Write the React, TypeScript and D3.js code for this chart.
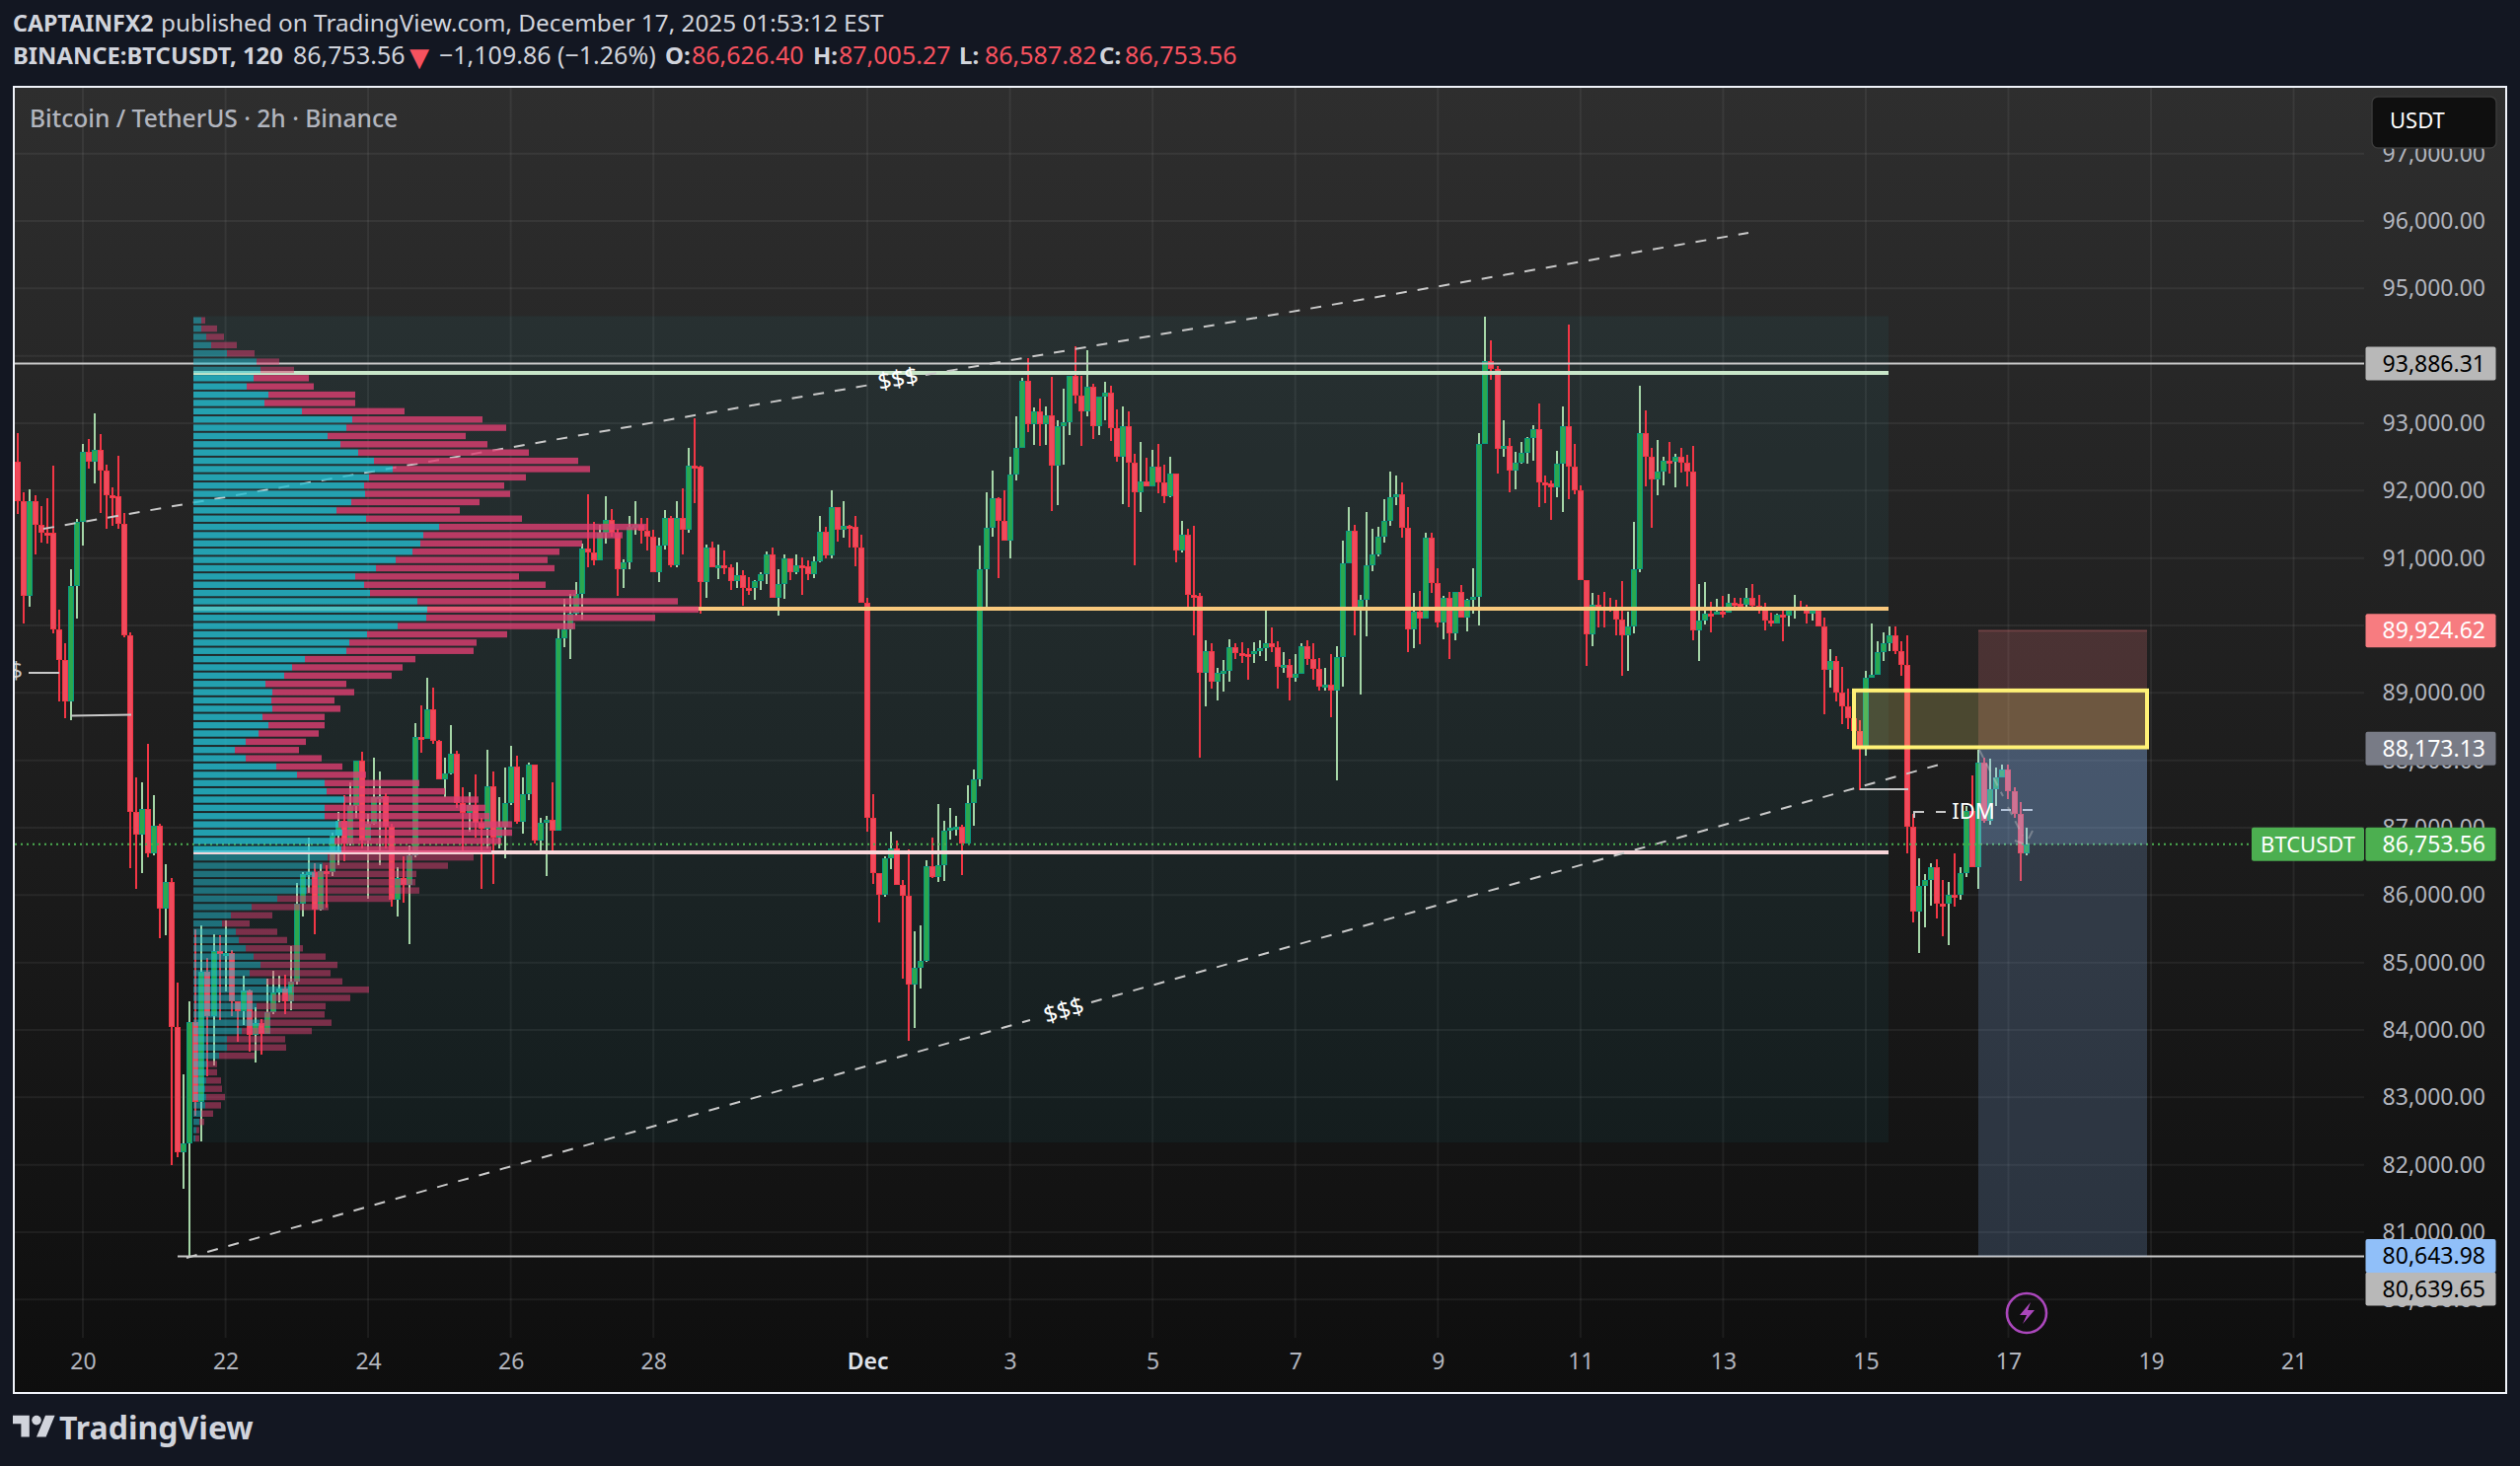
import { useEffect, useRef } from "react";
import * as d3 from "d3";

const closes = [
  91850,90440,91840,91490,91380,91370,89940,89490,88880,90580,
  91530,92570,92430,92610,92300,91930,91920,91510,89850,87230,
  86900,87280,86620,87030,85800,86190,84040,82190,82310,84110,
  82930,84870,84210,85170,85130,85140,84430,84280,84580,83920,
  84100,83940,84270,84550,84610,84430,84720,85870,86310,86340,
  85780,86360,86340,86890,87100,86760,87320,87990,86810,87060,
  87460,87470,87020,85930,86250,86150,86590,88350,88320,88760,
  88290,87720,87810,88100,87370,87220,87340,87070,86980,87620,
  86860,87010,87360,87910,87090,87500,87930,86810,87070,87120,
  86950,89810,89940,90170,90470,91140,91080,90960,91380,91560,
  91370,90830,90940,91460,91490,91400,91320,90790,91190,91600,
  90890,91590,91420,92370,92360,90640,91150,90870,90900,90870,
  90660,90740,90560,90550,90660,90760,91060,90410,90620,90990,
  90790,90890,90880,90760,90950,91390,91040,91760,91420,91480,
  91470,91150,90340,87150,86320,86000,86540,86690,86150,85990,
  84680,84920,85020,86430,86270,86450,86960,87000,87010,86760,
  87360,87720,90840,91450,91890,91550,91260,92240,92630,93630,
  92990,93170,92990,93120,92370,92950,93020,93700,93410,93180,
  93540,92960,93390,93450,92930,92500,92960,92420,91970,92140,
  92060,92350,92120,91920,92250,91110,91340,90450,90440,89300,
  89620,89160,89300,89320,89680,89590,89580,89570,89620,89670,
  89740,89680,89380,89410,89220,89280,89700,89500,89350,89090,
  89120,89030,89530,90920,91410,90240,90380,90900,91050,91320,
  91550,91910,91950,91450,89940,90200,90100,91310,90630,90050,
  90410,89890,90500,90120,90380,90420,92700,93920,93800,92620,
  92670,92300,92410,92560,92780,92910,92120,92110,92050,92400,
  92950,92350,92010,90670,89870,90310,90280,90260,90250,90090,
  89860,89980,90830,92850,92510,92160,92280,92440,92430,92510,
  92410,92290,89920,90080,90180,90170,90200,90190,90330,90320,
  90310,90410,90300,90240,90070,90030,90160,90150,90220,90280,
  90260,90170,90220,89990,89340,89470,89010,88800,88620,88440,
  88210,89230,89270,89600,89740,89850,89620,89420,87020,85750,
  86140,86230,86420,85880,85870,86010,86000,86330,87250,86420,
  87970,87100,87570,87750,87860,87540,87200,86626,86753.56,
];
const highs = [
  92850,91970,92020,91930,91770,91890,92370,90230,89730,90840,
  91580,92690,92770,93150,92840,92380,92050,92520,91670,89900,
  87750,87670,88240,87490,87060,86460,86250,84700,83340,84420,
  85490,85550,85070,85420,85400,85620,85190,84430,84800,84600,
  84330,84160,84760,84880,84800,84820,85250,86180,86340,86850,
  86480,86460,86440,86920,87240,87480,87680,88000,88120,87200,
  88040,87830,87510,87060,86420,86580,86730,88550,88820,89220,
  89080,88300,88040,88520,88140,87600,87530,87790,87150,88160,
  87830,87460,87890,88220,88070,87740,87960,87930,87150,87170,
  87680,89950,90400,90470,90650,91220,91940,91540,91490,91920,
  91730,91430,90980,91630,91840,91590,91590,91420,91300,91710,
  91620,91840,92030,92640,93080,92370,91200,91240,91200,91110,
  90910,90930,90820,90720,90680,90790,91100,91160,90840,91050,
  91000,91050,91010,90960,91030,91620,91460,92000,91760,91840,
  91490,91620,91340,90410,87500,86320,86580,86940,86810,86220,
  86680,85460,85550,86510,86860,87350,87100,87300,87170,87050,
  87630,87870,91190,91980,92300,91910,92000,92500,93100,93680,
  93960,93230,93370,93250,93690,93050,93510,93700,94140,93700,
  94080,93580,93400,93620,93560,93200,93250,93170,92540,92720,
  92490,92600,92690,92380,92500,92260,91550,91430,91480,90490,
  89780,89730,89370,89490,89790,89730,89750,89660,89750,89780,
  90280,89970,89770,89610,89500,89580,89740,89780,89730,89520,
  89370,89580,89700,91260,91750,91500,90460,91690,91430,91460,
  91870,92280,92220,92120,91760,90490,90510,91370,91370,90850,
  90440,90500,90500,90600,90400,90850,92860,94580,94230,93850,
  93040,92780,92570,92720,92790,92970,93290,92220,92150,92590,
  93250,94470,92690,92080,90670,90480,90460,90500,90410,90380,
  90660,90200,91540,93560,93190,92640,92750,92500,92720,92550,
  92640,92530,92660,90610,90650,90350,90390,90440,90470,90410,
  90410,90560,90620,90460,90330,90190,90170,90230,90270,90450,
  90370,90310,90270,90270,90120,89650,89550,89390,89060,88770,
  88600,89330,90030,89770,89900,89980,89980,89760,89850,87210,
  86550,86310,86470,86530,86220,86190,86620,86420,87320,87780,
  88150,88040,88020,87900,87930,87940,87600,87380,87005.27,
];
const lows = [
  91650,90030,90280,91060,91230,91210,89880,88880,88630,88600,
  90100,91180,92320,92110,91670,91430,91480,91440,89830,86400,
  86100,86330,86560,86590,85360,85410,81990,82110,81650,80620,
  82730,82340,83310,83470,84140,84570,84210,83830,84080,83680,
  83510,83630,83940,84230,84410,84240,84290,84680,85690,86030,
  85420,85770,85820,86290,86440,86500,86730,87150,86700,85940,
  87040,86450,86700,85830,85690,85890,85270,86560,88110,88310,
  88240,87720,87460,87790,87290,86670,86940,86860,86100,86700,
  86170,86700,86550,87340,87060,86910,87410,86760,86660,86290,
  86670,86950,89680,89500,90140,90090,90870,90890,90960,91210,
  91320,90440,90560,90840,91350,91210,91110,90790,90640,91120,
  90860,90870,91060,91370,91810,90170,90410,90870,90690,90760,
  90530,90560,90300,90460,90380,90520,90610,90410,90140,90390,
  90680,90760,90460,90670,90710,90930,90990,91000,91240,91310,
  91150,90880,90340,86940,86170,85600,85980,86390,86150,84760,
  83840,84030,84610,85010,86250,86190,86210,86820,86880,86300,
  86760,87030,87610,90240,91320,90710,91260,90990,92150,92630,
  92870,92680,92660,92680,91700,91790,92390,92830,93290,92660,
  93110,92760,92820,93040,92740,92430,91800,91750,90890,91680,
  92060,92060,91960,91810,91900,90940,91080,90240,89860,88040,
  88800,89070,88890,89020,89160,89500,89450,89200,89450,89550,
  89470,89610,89070,89300,88890,89170,89280,89420,89190,89040,
  89040,88640,87700,89100,90920,89860,88980,89840,90800,91020,
  91230,91480,91790,91300,89600,89670,89720,90100,90480,89970,
  89800,89500,89780,90120,89910,90180,90000,92700,93640,92250,
  92510,91970,92020,92400,92400,92450,91760,91810,91570,91900,
  91680,91870,91950,90670,89400,89690,89970,89970,90200,89860,
  89250,89330,89880,90790,92070,91450,91930,92080,92250,92050,
  92270,92070,89780,89480,90020,89900,90170,90120,90330,90250,
  90250,90270,90280,90180,89920,89980,90030,89760,89990,90110,
  90220,90030,90070,89990,88680,89080,88880,88530,88470,88300,
  87560,88070,89230,89270,89470,89620,89570,89260,86620,85600,
  85140,85520,85840,85660,85390,85260,85830,85930,86270,86420,
  86100,87080,87050,87320,87750,87420,87150,86210,86587.82,
];
const firstOpen = 92430;

// volume profile rows, top to bottom
const vpUp = [
  8,8,13,18,34,64,68,61,54,76,72,110,161,155,136,149,167,183,202,178,
  173,174,160,145,175,249,233,230,222,205,185,164,173,179,227,237,236,207,176,158,
  155,113,100,92,73,80,79,80,70,76,66,53,42,53,84,105,133,135,153,133,
  133,147,151,143,150,136,131,123,120,115,85,59,38,29,43,46,53,61,68,57,
  74,100,80,64,59,67,49,34,34,26,14,13,13,12,13,12,8,6,3,2,
];
const vpDown = [
  4,16,18,26,28,23,34,56,68,88,92,104,132,162,140,149,173,207,200,159,
  142,147,130,125,158,210,202,164,149,154,181,166,184,209,264,275,232,180,142,129,
  129,112,112,109,82,83,64,69,63,57,61,61,65,77,67,70,96,120,136,163,
  167,176,172,169,152,148,127,103,105,114,116,78,42,28,42,49,58,73,78,82,
  77,78,79,70,74,73,71,59,60,36,10,11,15,17,19,16,12,5,3,4,
];
const vpHigh = 94588;
const vpLow = 82330;
const vahPrice = 93747;
const pocPrice = 90249;
const valPrice = 86634;

const priceTicks = d3.range(80000, 97001, 1000);
const dateTicks = [
  [10, 20], [10, 22], [10, 24], [10, 26], [10, 28], [11, 1], [11, 3], [11, 5], [11, 7],
  [11, 9], [11, 11], [11, 13], [11, 15], [11, 17], [11, 19], [11, 21],
].map(([m, d]) => new Date(Date.UTC(2025, m, d)));

const t = (m: number, d: number, h = 0, mi = 0) => new Date(Date.UTC(2025, m, d, h, mi));

export default function App() {
  const ref = useRef<SVGSVGElement | null>(null);

  useEffect(() => {
    const svg = d3.select(ref.current);
    svg.selectAll("*").remove();
    const font = "'Noto Sans', sans-serif";

    const x = d3.scaleUtc().domain([t(10, 20), t(11, 21)]).range([84, 2324.6]);
    const y = d3.scaleLinear().domain([81000, 97000]).range([1249, 155.7]);
    const left = 15, right = 2396, top = 89, bottom = 1356;

    const defs = svg.append("defs");
    const grad = defs.append("linearGradient").attr("id", "bg").attr("x1", 0).attr("x2", 0).attr("y1", 0).attr("y2", 1);
    grad.append("stop").attr("offset", 0).attr("stop-color", "#2e2e2e");
    grad.append("stop").attr("offset", 1).attr("stop-color", "#0e0e0e");
    defs.append("clipPath").attr("id", "plot").append("rect")
      .attr("x", left).attr("y", top).attr("width", right - left).attr("height", bottom - top);

    svg.append("rect").attr("width", 2554).attr("height", 1486).attr("fill", "#131722");
    svg.append("rect").attr("x", 14).attr("y", 88).attr("width", 2526).attr("height", 1324)
      .attr("fill", "url(#bg)").attr("stroke", "#f0f3fa").attr("stroke-width", 2);

    // grid
    svg.append("g").selectAll("line").data(priceTicks).join("line")
      .attr("x1", left).attr("x2", right).attr("y1", d => y(d)).attr("y2", d => y(d))
      .attr("stroke", "#ffffff").attr("stroke-opacity", 0.06).attr("stroke-width", 2);
    svg.append("g").selectAll("line").data(dateTicks).join("line")
      .attr("x1", d => x(d)).attr("x2", d => x(d)).attr("y1", top).attr("y2", bottom)
      .attr("stroke", "#ffffff").attr("stroke-opacity", 0.06).attr("stroke-width", 2);

    // volume profile range box
    svg.append("rect").attr("x", 196).attr("y", y(vpHigh)).attr("width", 1914 - 196).attr("height", y(vpLow) - y(vpHigh))
      .attr("fill", "#26c6da").attr("fill-opacity", 0.055);

    // candles
    const bars = closes.map((c, i) => ({
      time: new Date(t(10, 19, 2).getTime() + i * 7200000),
      open: i === 0 ? firstOpen : closes[i - 1],
      high: highs[i],
      low: lows[i],
      close: c,
    }));
    const plot = svg.append("g").attr("clip-path", "url(#plot)").attr("shape-rendering", "crispEdges");
    const candle = plot.selectAll("g").data(bars).join("g")
      .attr("transform", d => `translate(${Math.round(x(d.time))},0)`);
    candle.append("line")
      .attr("y1", d => y(d.high)).attr("y2", d => y(d.low))
      .attr("stroke", d => (d.close >= d.open ? "#a5d6a7" : "#f23645")).attr("stroke-width", 2);
    candle.append("rect")
      .attr("x", -3).attr("width", 6)
      .attr("y", d => y(Math.max(d.open, d.close)))
      .attr("height", d => Math.max(3, Math.abs(y(d.open) - y(d.close))))
      .attr("fill", d => (d.close >= d.open ? "#089981" : "#f23645"));
    candle.append("rect")
      .attr("x", -2).attr("width", 4)
      .attr("y", d => y(Math.max(d.open, d.close)) + 1)
      .attr("height", d => Math.max(1, Math.abs(y(d.open) - y(d.close)) - 2))
      .attr("fill", d => (d.close >= d.open ? "#2ba84f" : "#f04a5c"));

    // drawings under the profile
    const drawn = svg.append("g");
    const levelLine = (p: number, x1: number, x2: number, color: string, w: number) =>
      drawn.append("line").attr("x1", x1).attr("x2", x2).attr("y1", y(p)).attr("y2", y(p))
        .attr("stroke", color).attr("stroke-width", w);
    levelLine(93886.31, left, right, "#c9c9c9", 2);
    levelLine(80639.65, 180, right, "#c9c9c9", 2);
    levelLine(vahPrice, 196, 1914, "#c8e6c9", 4);
    levelLine(pocPrice, 196, 1914, "#f9c97d", 4);
    levelLine(valPrice, 196, 1914, "#f8d7da", 4);

    const dashed = (x1: number, y1: number, x2: number, y2: number, op = 1) =>
      drawn.append("line").attr("x1", x1).attr("y1", y1).attr("x2", x2).attr("y2", y2)
        .attr("stroke", "#c9c9c9").attr("stroke-opacity", op).attr("stroke-width", 2).attr("stroke-dasharray", "11 11");
    // upper and lower channel lines, broken around the $$$ labels
    dashed(44, 536, 882, 390);
    dashed(938, 380, 1772, 236);
    dashed(189, 1275, 1044, 1034);
    dashed(1106, 1016, 1969, 774);

    // current price
    drawn.append("line").attr("x1", left).attr("x2", 2282).attr("y1", y(86753.56)).attr("y2", y(86753.56))
      .attr("stroke", "#4caf50").attr("stroke-width", 2).attr("stroke-dasharray", "2 4");

    // volume profile bars
    const step = (vpHigh - vpLow) / vpUp.length;
    const vol = d3.scaleLinear().domain([0, 512]).range([196, 708]);
    const rows = vpUp.map((u, i) => ({
      up: u,
      down: vpDown[i],
      price: vpHigh - (i + 0.5) * step,
      inside: i >= 7 && i <= 64,
    }));
    const barH = 6.4;
    const vp = svg.append("g");
    vp.selectAll("rect.up").data(rows).join("rect").attr("class", "up")
      .attr("x", vol(0)).attr("width", d => vol(d.up) - vol(0))
      .attr("y", d => y(d.price) - barH / 2).attr("height", barH)
      .attr("fill", "#24bed1").attr("fill-opacity", d => (d.inside ? 0.8 : 0.5));
    vp.selectAll("rect.down").data(rows).join("rect").attr("class", "down")
      .attr("x", d => vol(d.up)).attr("width", d => vol(d.up + d.down) - vol(d.up))
      .attr("y", d => y(d.price) - barH / 2).attr("height", barH)
      .attr("fill", "#de3e72").attr("fill-opacity", d => (d.inside ? 0.8 : 0.5));

    // small liquidity marks
    const mark = (pts: [number, number][], op = 1, dash = "") =>
      svg.append("path").attr("d", d3.line()(pts)).attr("fill", "none")
        .attr("stroke", "#c9c9c9").attr("stroke-opacity", op).attr("stroke-width", 2).attr("stroke-dasharray", dash);
    mark([[29, 682], [60, 682]]);
    mark([[72, 725.5], [133, 724.5]]);
    mark([[1885, 800], [1934, 800]]);
    mark([[1940, 829], [1940, 823], [1950, 823]]);
    mark([[1962, 823], [1972, 823]]);
    mark([[2028, 821], [2038, 821]]);
    mark([[2050, 821], [2060, 821]]);

    svg.append("g").attr("clip-path", "url(#plot)").append("text").attr("x", 23).attr("y", 688).attr("text-anchor", "end")
      .attr("fill", "#c9c9c9").attr("font-family", font).attr("font-size", 23).text("$$$");
    const label = (s: string, cx: number, cy: number, rot: number) =>
      svg.append("text").attr("transform", `translate(${cx},${cy}) rotate(${rot})`).attr("text-anchor", "middle")
        .attr("dy", "0.35em").attr("fill", "#fff").attr("font-family", font).attr("font-size", 24).text(s);
    label("$$$", 910, 384, -10);
    label("$$$", 1078, 1024, -16);

    // short position tool
    const posL = 2005, posW = 2176 - 2005;
    const zone = (p1: number, p2: number, color: string, op: number) =>
      svg.append("rect").attr("x", posL).attr("width", posW).attr("y", y(p1)).attr("height", y(p2) - y(p1))
        .attr("fill", color).attr("fill-opacity", op);
    zone(89924.62, 88173.13, "#f77c80", 0.2);
    zone(88173.13, 80643.98, "#90bff9", 0.2);
    zone(88173.13, 86753.56, "#90bff9", 0.2);
    svg.append("line").attr("x1", posL).attr("x2", posL + posW).attr("y1", y(89924.62)).attr("y2", y(89924.62))
      .attr("stroke", "#f77c80").attr("stroke-opacity", 0.25).attr("stroke-width", 2);

    // projected path inside the tool
    mark([[2006, 760], [2030, 807]], 0.4, "9 7");
    mark([[2035, 818], [2050, 847]], 0.4, "9 7");
    mark([[2042, 852], [2053, 856]], 0.4, "9 7");
    mark([[2060, 842], [2056, 850]], 0.4, "9 7");

    // supply box
    svg.append("rect").attr("x", 1879).attr("width", 2176 - 1879).attr("y", y(89036)).attr("height", y(88193) - y(89036))
      .attr("fill", "#fff176").attr("fill-opacity", 0.2).attr("stroke", "#fff176").attr("stroke-width", 4);

    svg.append("text").attr("x", 2000).attr("y", 822).attr("dy", "0.35em").attr("text-anchor", "middle")
      .attr("fill", "#fff").attr("font-family", font).attr("font-size", 22).text("IDM");

    // lightning badge
    const badge = svg.append("g").attr("transform", "translate(2054,1331)");
    badge.append("circle").attr("r", 20).attr("fill", "none").attr("stroke", "#ab47bc").attr("stroke-width", 2.6);
    badge.append("path").attr("d", "M4 -11 L-7 2 L0 2 L-4 11 L8 -3 L1 -3 Z").attr("fill", "#ab47bc");

    // axes
    const yAxis = d3.axisRight(y).tickValues(priceTicks).tickSize(0).tickPadding(0).tickFormat(d3.format(",.2f") as any);
    const gy = svg.append("g").attr("transform", "translate(2519,0)").call(yAxis as any);
    gy.select(".domain").remove();
    gy.attr("font-family", font).attr("font-size", 23);
    gy.selectAll("text").attr("x", 0).attr("text-anchor", "end").attr("fill", "#b2b5be");

    const xAxis = d3.axisBottom(x).tickValues(dateTicks).tickSize(0).tickPadding(0)
      .tickFormat((d: any) => (d.getUTCDate() === 1 ? "Dec" : String(d.getUTCDate())));
    const gx = svg.append("g").attr("transform", "translate(0,1372)").call(xAxis as any);
    gx.select(".domain").remove();
    gx.attr("font-family", font).attr("font-size", 23);
    gx.selectAll("text").attr("fill", (d: any) => (d.getUTCDate() === 1 ? "#dfe2ea" : "#b2b5be"))
      .attr("font-weight", (d: any) => (d.getUTCDate() === 1 ? 600 : 400));

    // price tags
    const tag = (p: number, s: string, bg: string, fg: string) => {
      svg.append("rect").attr("x", 2397.5).attr("y", y(p) - 17).attr("width", 132).attr("height", 34).attr("rx", 2).attr("fill", bg);
      svg.append("text").attr("x", 2519).attr("y", y(p)).attr("dy", "0.35em").attr("text-anchor", "end")
        .attr("fill", fg).attr("font-family", font).attr("font-size", 23).text(s);
    };
    tag(93886.31, "93,886.31", "#b8b8b8", "#000");
    tag(89924.62, "89,924.62", "#f77c80", "#fff");
    tag(88173.13, "88,173.13", "#787b86", "#fff");
    tag(86753.56, "86,753.56", "#4caf50", "#fff");
    svg.append("rect").attr("x", 2282).attr("y", y(86753.56) - 17).attr("width", 114).attr("height", 34).attr("rx", 2).attr("fill", "#4caf50");
    svg.append("text").attr("x", 2339).attr("y", y(86753.56)).attr("dy", "0.35em").attr("text-anchor", "middle")
      .attr("fill", "#fff").attr("font-family", font).attr("font-size", 22).text("BTCUSDT");
    svg.append("rect").attr("x", 2397.5).attr("y", 1289.5).attr("width", 132).attr("height", 34).attr("rx", 2).attr("fill", "#b8b8b8");
    svg.append("text").attr("x", 2519).attr("y", 1306.5).attr("dy", "0.35em").attr("text-anchor", "end")
      .attr("fill", "#000").attr("font-family", font).attr("font-size", 23).text("80,639.65");
    svg.append("rect").attr("x", 2397.5).attr("y", 1256).attr("width", 132).attr("height", 34).attr("rx", 2).attr("fill", "#90bff9");
    svg.append("text").attr("x", 2519).attr("y", 1273).attr("dy", "0.35em").attr("text-anchor", "end")
      .attr("fill", "#000").attr("font-family", font).attr("font-size", 23).text("80,643.98");

    // currency button
    svg.append("rect").attr("x", 2404).attr("y", 98).attr("width", 126).attr("height", 52).attr("rx", 6)
      .attr("fill", "#0f0f0f").attr("stroke", "#3a3a3a").attr("stroke-width", 1.5);
    svg.append("text").attr("x", 2422).attr("y", 122).attr("dy", "0.35em").attr("fill", "#fff")
      .attr("font-family", font).attr("font-size", 22).text("USDT");

    // chart title
    svg.append("text").attr("x", 30).attr("y", 129).attr("fill", "#b2b5be").attr("font-family", font)
      .attr("font-size", 24.6).attr("font-weight", 500).text("Bitcoin / TetherUS · 2h · Binance");

    // header, placed piece by piece as the bold and value widths differ from the source font
    const headText = (s: string, px: number, py: number, size: number, weight: number, color: string, family = font) =>
      svg.append("text").attr("x", px).attr("y", py).attr("font-family", family).attr("font-size", size)
        .attr("font-weight", weight).attr("fill", color).text(s);
    const light = "#d1d4dc", red = "#f7525f";
    headText("CAPTAINFX2", 13, 32, 23.2, 700, light);
    headText("published on TradingView.com, December 17, 2025 01:53:12 EST", 163, 32, 24.3, 400, light);
    headText("BINANCE:BTCUSDT, 120", 13, 65, 23.8, 700, light);
    headText("86,753.56", 297, 65, 25, 400, light);
    headText("▼", 415, 67, 26, 400, red, "'DejaVu Sans', sans-serif");
    headText("−1,109.86 (−1.26%)", 445, 65, 25, 400, light);
    headText("O:", 674, 65, 24, 700, light);
    headText("86,626.40", 701, 65, 25, 400, red);
    headText("H:", 824, 65, 24, 700, light);
    headText("87,005.27", 850, 65, 25, 400, red);
    headText("L:", 972, 65, 24, 700, light);
    headText("86,587.82", 998, 65, 25, 400, red);
    headText("C:", 1114, 65, 24, 700, light);
    headText("86,753.56", 1140, 65, 25, 400, red);

    // footer logo
    const logo = svg.append("g").attr("transform", "translate(13,1430) scale(1.2)").attr("fill", "#d1d4dc");
    logo.append("path").attr("d", "M14 22H7V11H0V4h14v18zM28 22h-8l7.5-18h8L28 22z");
    logo.append("circle").attr("cx", 20).attr("cy", 8).attr("r", 4);
    svg.append("text").attr("x", 60).attr("y", 1459).attr("fill", "#d1d4dc").attr("font-family", font)
      .attr("font-size", 32).attr("font-weight", 700).text("TradingView");
  }, []);

  return <svg ref={ref} width={2554} height={1486} style={{ position: "absolute", left: 0, top: 0, display: "block" }} />;
}
